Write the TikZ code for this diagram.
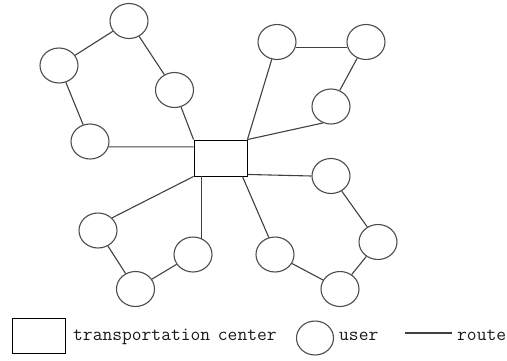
\documentclass[tikz,border=0pt]{standalone}
\usepackage{fontspec}
\usetikzlibrary{shapes.geometric,calc}
\begin{document}
\begin{tikzpicture}[x=1pt,y=-1pt,
  user/.style={ellipse,draw=black!70,line width=1.1pt,minimum width=38pt,minimum height=35pt,inner sep=0pt},
  center/.style={rectangle,draw=black,line width=0.9pt,minimum width=53pt,minimum height=36pt,inner sep=0pt},
  route/.style={draw=black!75,line width=1.1pt},
  legend/.style={font=\fontsize{19}{21}\ttfamily,anchor=base west,inner sep=0pt,text=black!90}]
\useasboundingbox (0,0) rectangle (507,360);

% transportation center
\node[center] (hub) at (220.5,158) {};

% users
\node[user] (A) at (129,21) {};
\node[user] (B) at (59,65.5) {};
\node[user] (C) at (174.5,90) {};
\node[user] (D) at (90,141.5) {};
\node[user] (E) at (277,42) {};
\node[user] (F) at (366,42) {};
\node[user] (G) at (331,106.5) {};
\node[user] (H) at (331,176) {};
\node[user] (I) at (378,242) {};
\node[user] (J) at (340,289) {};
\node[user] (K) at (275,254.5) {};
\node[user] (L) at (98,230.5) {};
\node[user] (M) at (135.5,289) {};
\node[user] (N) at (193,254.5) {};

% points on the border of the center
\coordinate (hw) at ($(hub.north west)!0.2!(hub.south west)$);
\coordinate (he) at ($(hub.south east)+(0,-2)$);
\coordinate (hs) at ($(hub.south east)+(-5,0)$);
\coordinate (hn) at ($(hub.south west)+(8,0)$);

% routes
\draw[route] (B) -- (A);
\draw[route] (A) -- (C);
\draw[route] (B) -- (D);
\draw[route] (C) -- (hub.north west);
\draw[route] (D.-16) -- (hw);
\draw[route] (E.-17) -- (F.197);
\draw[route] (F) -- (G);
\draw[route] (E) -- (hub.north east);
\draw[route] (G.244) -- (hub.north east);
\draw[route] (he) -- (H.west);
\draw[route] (H) -- (I);
\draw[route] (I) -- (J);
\draw[route] (hs) -- (K.110);
\draw[route] (K) -- (J);
\draw[route] (hub.south west) -- (L.42);
\draw[route] (L) -- (M);
\draw[route] (M) -- (N);
\draw[route] (hn) -- (hn |- N.60);

% legend
\node[center,minimum width=53pt,minimum height=35pt] (lrect) at (38.5,335.5) {};
\node[legend] (ltext) at (73,340) {transportation\hspace{-2pt} center};
\node[user,minimum width=37pt,minimum height=34pt] (luser) at (315,338) {};
\node[legend] (utext) at (339,340) {user};
\coordinate (r1) at (405,333);
\coordinate (r2) at (452,333);
\draw[route] (r1) -- (r2);
\node[legend] (rtext) at (457,340) {route};
\end{tikzpicture}
\end{document}
